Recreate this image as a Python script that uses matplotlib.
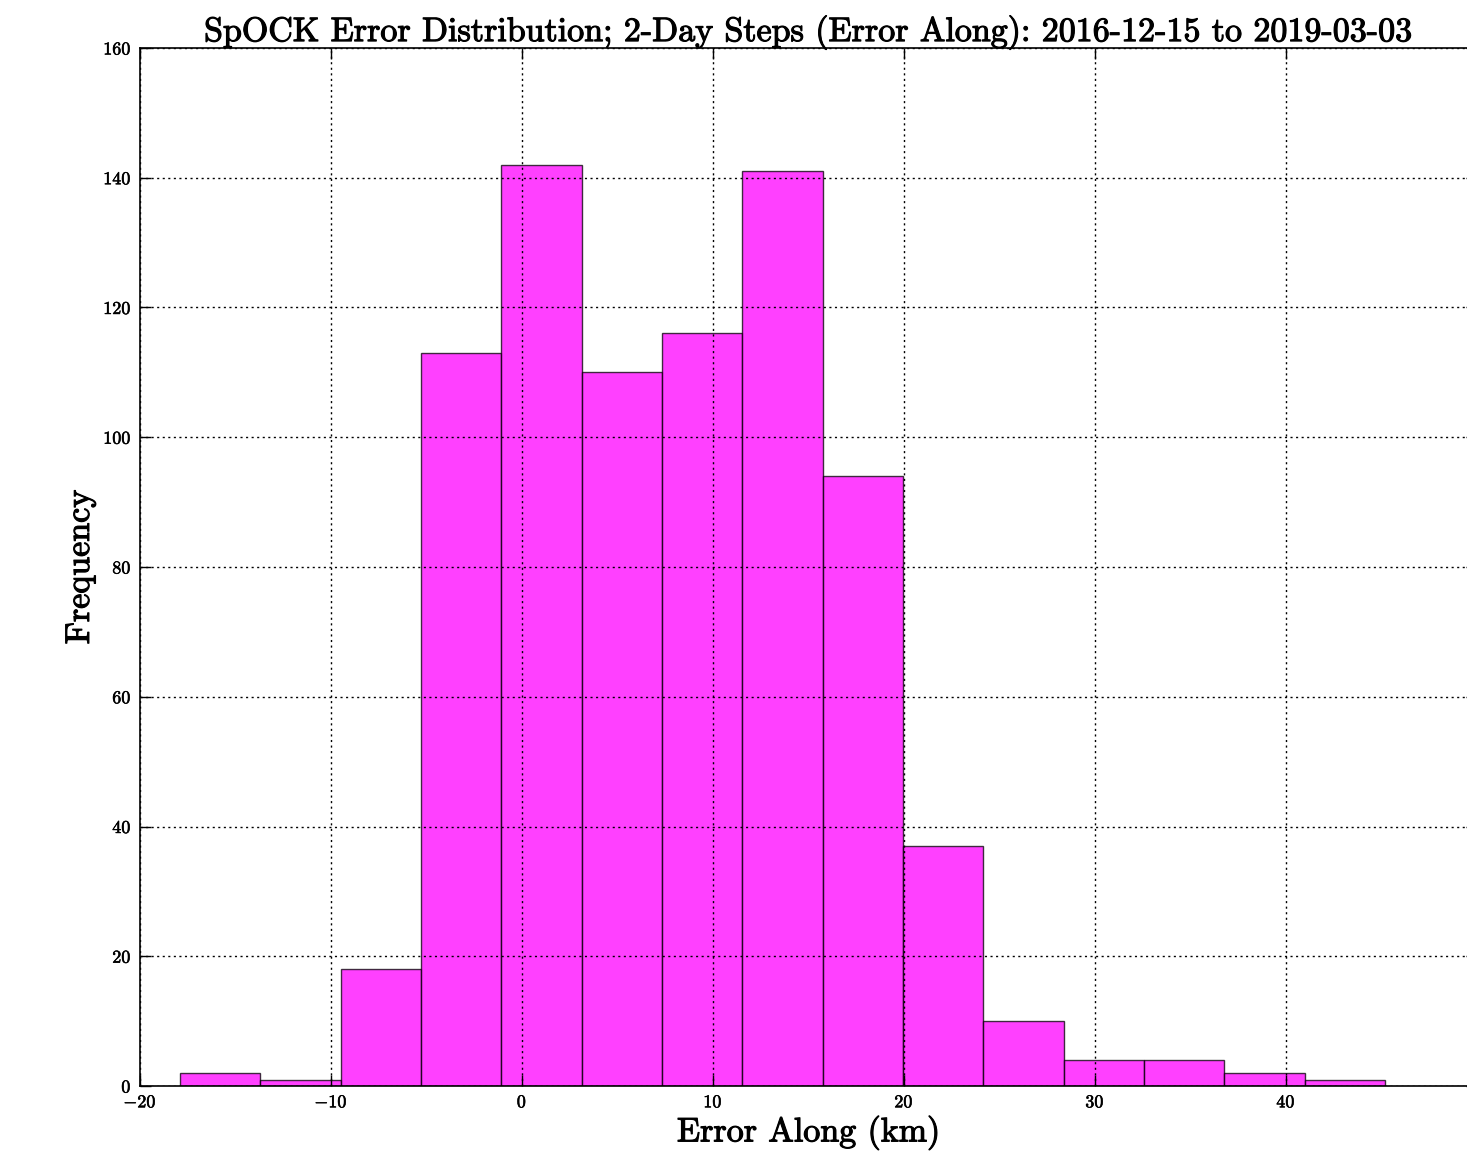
import numpy as np
import matplotlib
matplotlib.use("Agg")
import matplotlib.pyplot as plt
import matplotlib.patheffects as pe

plt.rcParams["font.family"] = ["cmr10", "DejaVu Serif"]
plt.rcParams["mathtext.fontset"] = "cm"
plt.rcParams["axes.formatter.use_mathtext"] = True
plt.rcParams["axes.unicode_minus"] = True

# Histogram of along-track error (km)
bin_edges = np.linspace(-17.91, 45.18, 16)
counts = [2, 1, 18, 113, 142, 110, 116, 141, 94, 37, 10, 4, 4, 2, 1]
x_ticks = [-20, -10, 0, 10, 20, 30, 40]
y_ticks = [0, 20, 40, 60, 80, 100, 120, 140, 160]

centers = 0.5 * (bin_edges[:-1] + bin_edges[1:])

fig = plt.figure(figsize=(14.67, 11.68), dpi=100, facecolor="white")
ax = fig.add_axes([140 / 1467, 82 / 1168, 1337 / 1467, 1038 / 1168])

ax.hist(centers, bins=bin_edges, weights=counts, facecolor="magenta",
        edgecolor="black", alpha=0.75, linewidth=1.0)

ax.set_xlim(-20, 50)
ax.set_ylim(0, 160)
ax.set_xticks(x_ticks)
ax.set_yticks(y_ticks)
ax.grid(True, color="black", linestyle=(0, (1.5, 2.5)), linewidth=1.0)
ax.set_axisbelow(False)
ax.tick_params(direction="in", length=8, width=1, labelsize=13,
               top=True, right=True, pad=6)
for s in ax.spines.values():
    s.set_linewidth(1.2)

heavy = [pe.withStroke(linewidth=0.8, foreground="black")]
tick_heavy = [pe.withStroke(linewidth=0.4, foreground="black")]
for lbl in ax.get_xticklabels() + ax.get_yticklabels():
    lbl.set_path_effects(tick_heavy)

ax.set_title("SpOCK Error Distribution; 2-Day Steps (Error Along): 2016-12-15 to 2019-03-03",
             fontsize=24.5, pad=5, path_effects=heavy)
ax.set_xlabel("Error Along (km)", fontsize=24.5, labelpad=4, path_effects=heavy)
ax.set_ylabel("Frequency", fontsize=24.5, labelpad=6, path_effects=heavy)

fig.savefig("out.png", dpi=100, facecolor="white")
